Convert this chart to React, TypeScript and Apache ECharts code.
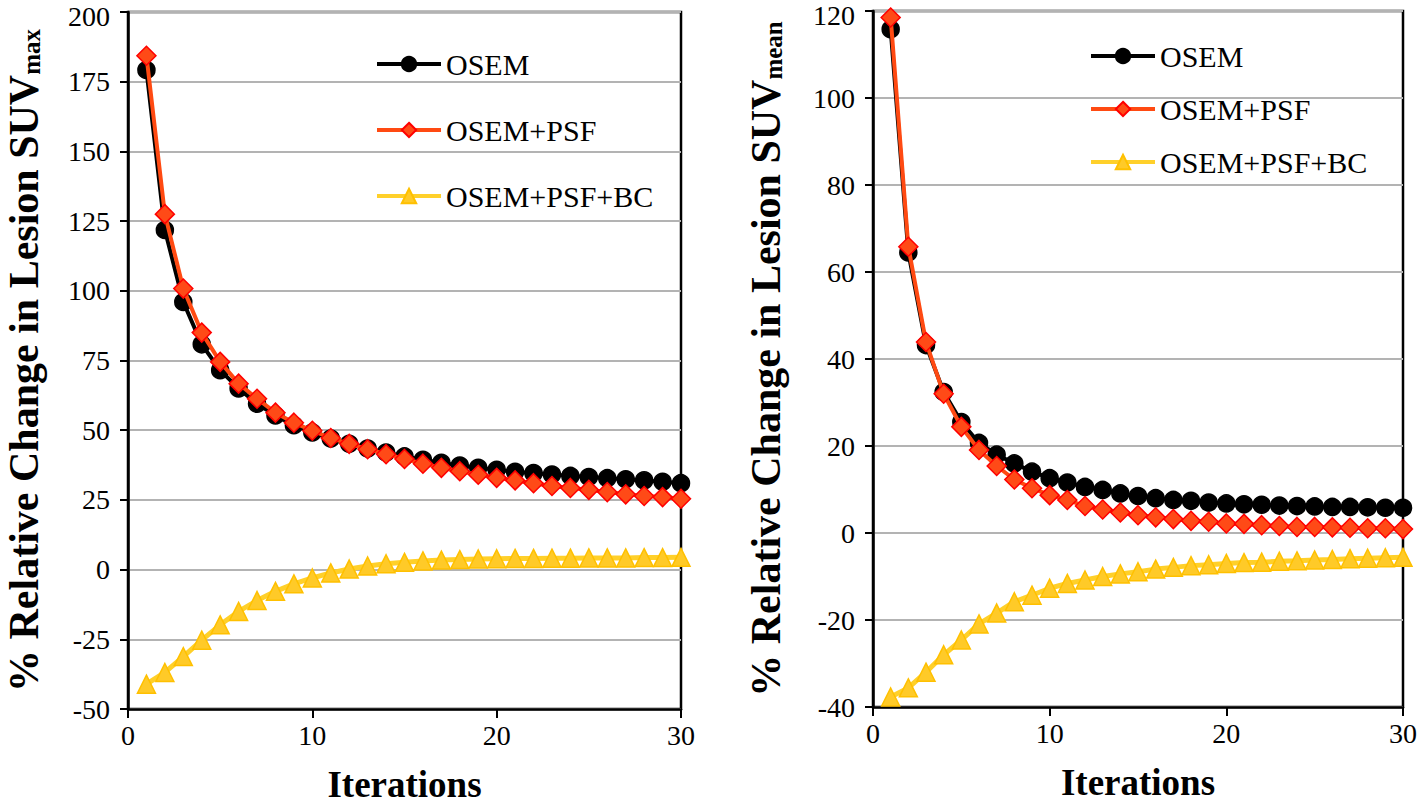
import React, { useEffect, useRef } from "react";
import * as echarts from "echarts";

const iterations = [1, 2, 3, 4, 5, 6, 7, 8, 9, 10, 11, 12, 13, 14, 15, 16, 17, 18, 19, 20, 21, 22, 23, 24, 25, 26, 27, 28, 29, 30];
const seriesNames = ["OSEM", "OSEM+PSF", "OSEM+PSF+BC"];

// Left panel: % relative change in lesion SUVmax
const maxOSEM = [179.2, 121.8, 96.0, 80.8, 71.5, 65.0, 59.5, 55.3, 51.8, 49.2, 47.0, 45.1, 43.4, 42.0, 40.6, 39.4, 38.3, 37.3, 36.5, 35.8, 35.1, 34.6, 34.1, 33.6, 33.2, 32.8, 32.4, 32.0, 31.5, 31.0];
const maxPSF = [184.3, 127.5, 100.8, 85.0, 74.5, 66.7, 61.3, 56.3, 52.7, 49.8, 47.2, 45.1, 43.2, 41.4, 39.7, 38.0, 36.5, 35.3, 34.0, 32.9, 32.0, 31.0, 30.0, 29.3, 28.6, 27.8, 27.0, 26.4, 26.0, 25.4];
const maxBC = [-41.1, -36.9, -31.2, -25.3, -19.8, -15.0, -11.1, -7.8, -5.1, -3.0, -1.2, 0.2, 1.3, 2.1, 2.6, 3.1, 3.4, 3.6, 3.8, 3.9, 4.0, 4.0, 4.1, 4.1, 4.2, 4.2, 4.2, 4.3, 4.3, 4.4];

// Right panel: % relative change in lesion SUVmean
const meanOSEM = [115.8, 64.5, 43.2, 32.4, 25.5, 20.7, 18.0, 16.0, 14.1, 12.6, 11.6, 10.6, 9.9, 9.1, 8.5, 8.0, 7.6, 7.4, 7.0, 6.8, 6.6, 6.5, 6.3, 6.2, 6.1, 6.0, 6.0, 5.9, 5.8, 5.8];
const meanPSF = [118.5, 65.8, 43.9, 32.0, 24.4, 19.1, 15.4, 12.3, 10.3, 8.7, 7.6, 6.2, 5.4, 4.7, 4.1, 3.6, 3.2, 2.8, 2.6, 2.2, 2.1, 1.8, 1.6, 1.4, 1.4, 1.3, 1.2, 1.1, 1.1, 0.9];
const meanBC = [-37.7, -35.6, -32.0, -28.0, -24.6, -20.9, -18.4, -15.8, -14.3, -12.7, -11.6, -10.8, -10.0, -9.4, -8.9, -8.3, -7.9, -7.5, -7.3, -7.0, -6.8, -6.7, -6.5, -6.4, -6.2, -6.1, -5.9, -5.8, -5.7, -5.6];

const xTicks = { min: 0, max: 30, interval: 10 };
const yLeftTicks = { min: -50, max: 200, interval: 25 };
const yRightTicks = { min: -40, max: 120, interval: 20 };

const FONT = "Liberation Serif";

const styles = [
  { line: "#000000", lineWidth: 4, symbol: "circle", fill: "#000000", border: "#000000", size: 17 },
  { line: "#FF4A12", lineWidth: 4, symbol: "diamond", fill: "#FF4A17", border: "#FF0000", size: 19 },
  { line: "#FFD02A", lineWidth: 5, symbol: "triangle", fill: "#FFCA28", border: "#FFC000", size: 18 },
];

function makeSeries(values: number[], idx: number, axisIndex: number) {
  const s = styles[idx];
  return {
    name: seriesNames[idx],
    type: "line",
    xAxisIndex: axisIndex,
    yAxisIndex: axisIndex,
    data: values.map((v, i) => [iterations[i], v]),
    symbol: s.symbol,
    symbolSize: s.size,
    lineStyle: { color: s.line, width: s.lineWidth },
    itemStyle: { color: s.fill, borderColor: s.border, borderWidth: 1.5 },
    z: 3 + idx,
  };
}

const tickBase = { fontFamily: FONT, fontSize: 28, color: "#000", fontWeight: "normal", lineHeight: 22 };
const tickRich = { t: tickBase, m: { ...tickBase, padding: [8, 0, 0, 0] } };

function xAxis(gridIndex: number) {
  return {
    type: "value",
    gridIndex,
    ...xTicks,
    name: "Iterations",
    nameLocation: "middle",
    nameGap: 57,
    nameTextStyle: { fontFamily: FONT, fontSize: 37, fontWeight: "bold", color: "#000", lineHeight: 37 },
    axisLine: { show: true, onZero: false, lineStyle: { color: "#000", width: 2.5 } },
    axisTick: { show: true, length: 9, lineStyle: { color: "#000", width: 2 } },
    axisLabel: {
      fontFamily: FONT,
      fontSize: 28,
      color: "#000",
      margin: 15,
      formatter: (v: number) => "{t|" + v + "}",
      rich: tickRich,
    },
    splitLine: { show: false },
  };
}

function yAxis(gridIndex: number, ticks: any, sub: string, gap: number) {
  return {
    type: "value",
    gridIndex,
    ...ticks,
    name: "{a|% Relative Change in Lesion SUV}{b|" + sub + "}",
    nameLocation: "middle",
    nameGap: gap,
    nameTextStyle: {
      fontFamily: FONT,
      color: "#000",
      rich: {
        a: { fontFamily: FONT, fontSize: 42, fontWeight: "bold", color: "#000", lineHeight: 40 },
        b: { fontFamily: FONT, fontSize: 25, fontWeight: "bold", color: "#000", lineHeight: 20, verticalAlign: "bottom" },
      },
    },
    axisLine: { show: true, onZero: false, lineStyle: { color: "#000", width: 2.5 } },
    axisTick: { show: true, length: 8, lineStyle: { color: "#000", width: 2 } },
    axisLabel: {
      fontFamily: FONT,
      fontSize: 28,
      color: "#000",
      margin: 18,
      formatter: (v: number) => (v === ticks.max ? "{m|" + v + "}" : "{t|" + v + "}"),
      rich: tickRich,
    },
    splitLine: { show: true, lineStyle: { color: "#b3b3b3", width: 2 } },
  };
}

function legend(left: number, top: number, gap: number) {
  return {
    orient: "vertical",
    left,
    top,
    itemGap: gap,
    itemWidth: 64,
    itemHeight: 18,
    data: seriesNames,
    lineStyle: { width: 4 },
    textStyle: { fontFamily: FONT, fontSize: 30, color: "#000" },
    selectedMode: false,
  };
}

export default function App() {
  const ref = useRef<HTMLDivElement>(null);
  useEffect(() => {
    document.body.style.margin = "0";
    document.body.style.overflow = "hidden";
    document.documentElement.style.overflow = "hidden";
    if (!ref.current) return;
    const chart = echarts.init(ref.current, undefined, { renderer: "svg", width: 1418, height: 804 });
    chart.setOption({
      animation: false,
      backgroundColor: "#ffffff",
      textStyle: { fontFamily: FONT, color: "#000" },
      grid: [
        { left: 128, right: 737, top: 12, bottom: 95, outerBoundsMode: "none", containLabel: false, show: true, borderColor: "#000", borderWidth: 2.5, backgroundColor: "transparent" },
        { left: 873, right: 15, top: 11, bottom: 97, outerBoundsMode: "none", containLabel: false, show: true, borderColor: "#000", borderWidth: 2.5, backgroundColor: "transparent" },
      ],
      legend: [legend(370, 44, 36), legend(1084, 36, 23)],
      xAxis: [xAxis(0), xAxis(1)],
      yAxis: [yAxis(0, yLeftTicks, "max", 84), yAxis(1, yRightTicks, "mean", 87)],
      series: [
        makeSeries(maxOSEM, 0, 0),
        makeSeries(maxPSF, 1, 0),
        makeSeries(maxBC, 2, 0),
        makeSeries(meanOSEM, 0, 1),
        makeSeries(meanPSF, 1, 1),
        makeSeries(meanBC, 2, 1),
      ],
    });
    return () => chart.dispose();
  }, []);
  return (
    <div
      ref={ref}
      style={{ position: "absolute", left: 0, top: 0, width: 1418, height: 804, background: "#fff", overflow: "hidden" }}
    />
  );
}
